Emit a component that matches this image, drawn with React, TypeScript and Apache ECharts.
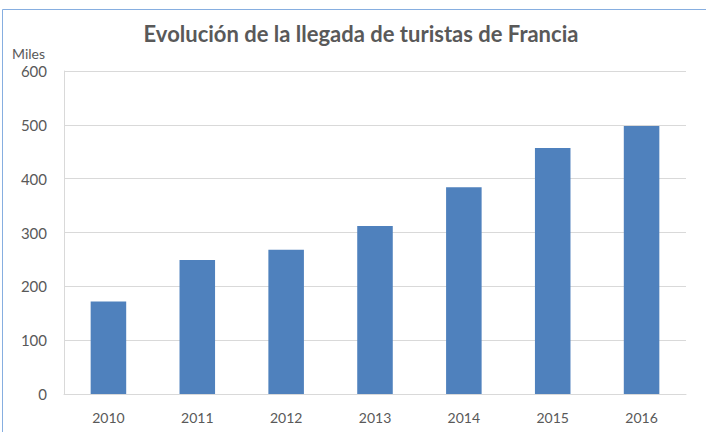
import React, { useEffect, useRef } from "react";
import * as echarts from "echarts";

const years = ["2010", "2011", "2012", "2013", "2014", "2015", "2016"];
const visitors = [172, 249, 268, 312, 384, 457, 498];
const yTicks = { min: 0, max: 600, interval: 100 };
const titleText = "Evolución de la llegada de turistas de Francia";
const unitLabel = "Miles";

export default function App() {
  const ref = useRef<HTMLDivElement>(null);
  useEffect(() => {
    if (!ref.current) return;
    const chart = echarts.init(ref.current, null, { renderer: "svg" });
    chart.setOption({
      animation: false,
      backgroundColor: "#ffffff",
      title: {
        text: titleText,
        left: 356,
        textAlign: "center",
        top: 17,
        textStyle: {
          fontFamily: "Lato",
          fontWeight: "bold",
          fontSize: 22,
          color: "#595959",
        },
      },
      graphic: [
        {
          type: "rect",
          shape: { x: 2.5, y: 9.5, width: 740, height: 460 },
          style: { fill: "none", stroke: "#86AEE0", lineWidth: 1 },
          silent: true,
        },
        {
          type: "text",
          x: 12,
          y: 46,
          style: {
            text: unitLabel,
            fontFamily: "Lato",
            fontSize: 14,
            fill: "#595959",
          },
        },
      ],
      grid: { left: 64, right: 20, top: 71, bottom: 38 },
      xAxis: {
        type: "category",
        data: years,
        axisLine: { show: true, lineStyle: { color: "#D9D9D9", width: 1 } },
        axisTick: { show: false },
        axisLabel: {
          color: "#595959",
          fontFamily: "Lato",
          fontSize: 14,
          margin: 16,
        },
      },
      yAxis: {
        type: "value",
        min: yTicks.min,
        max: yTicks.max,
        interval: yTicks.interval,
        axisLine: { show: true, lineStyle: { color: "#D9D9D9", width: 1 } },
        axisTick: { show: false },
        splitLine: { lineStyle: { color: "#D9D9D9", width: 1 } },
        axisLabel: {
          color: "#595959",
          fontFamily: "Lato",
          fontSize: 15,
          margin: 17,
        },
      },
      series: [
        {
          type: "bar",
          data: visitors,
          barWidth: "40%",
          itemStyle: { color: "#4F81BD" },
        },
      ],
    });
    return () => chart.dispose();
  }, []);
  return (
    <div
      ref={ref}
      style={{ position: "fixed", left: 0, top: 0, width: 706, height: 432 }}
    />
  );
}
